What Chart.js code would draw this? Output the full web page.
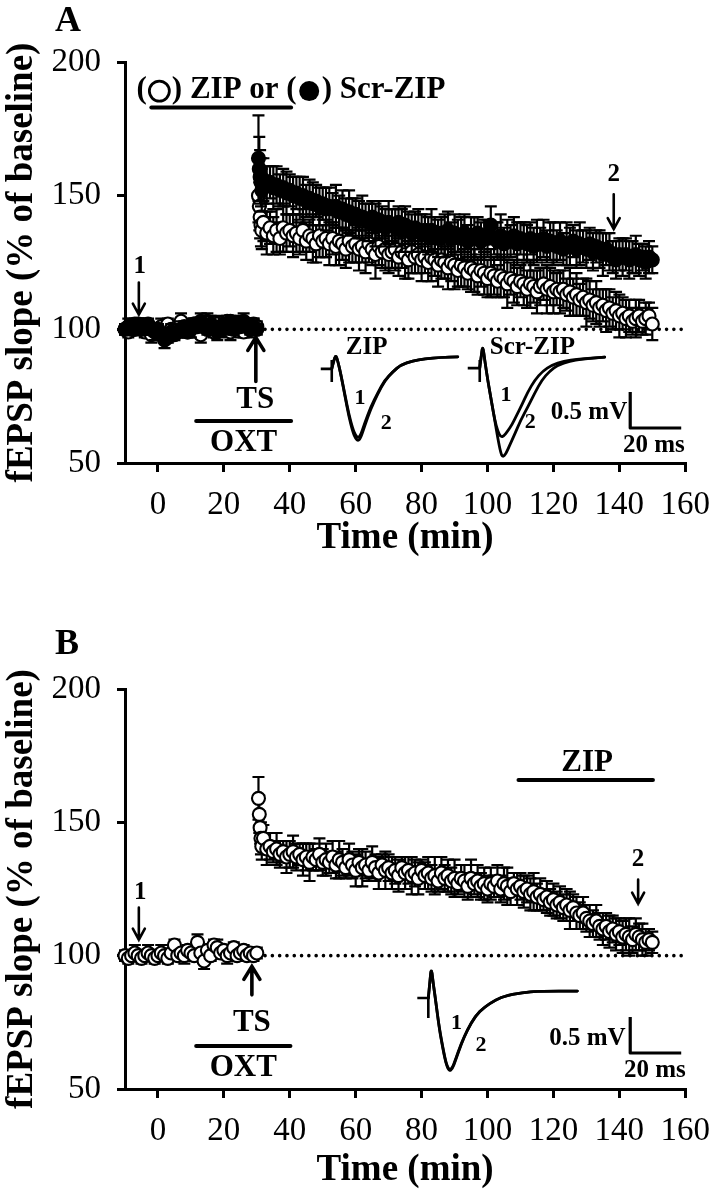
<!DOCTYPE html>
<html lang="en">
<head>
<meta charset="UTF-8">
<title>fEPSP slope - ZIP / Scr-ZIP</title>
<script src="https://cdn.jsdelivr.net/npm/chart.js@4.4.1/dist/chart.umd.min.js"></script>
<style>
  html, body { margin: 0; padding: 0; background: #fff; }
  .panel { position: absolute; left: 0; width: 724px; }
  #wrapA { top: 0; height: 600px; }
  #wrapB { top: 600px; height: 599px; }
</style>
</head>
<body>
<div class="panel" id="wrapA"><canvas id="chartA"></canvas></div>
<div class="panel" id="wrapB"><canvas id="chartB"></canvas></div>
<script>
// sampling times (min), shared by all series
const minutes = [
  -10, -9, -8, -7, -6, -5, -4, -3, -2, -1,
  0, 1, 2, 3, 4, 5, 6, 7, 8, 9,
  10, 11, 12, 13, 14, 15, 16, 17, 18, 19,
  20, 21, 22, 23, 24, 25, 26, 27, 28, 29,
  30,
  30.5, 30.75, 31, 31.25, 31.5,
  32, 33, 34, 35, 36, 37, 38, 39, 40, 41,
  42, 43, 44, 45, 46, 47, 48, 49, 50, 51,
  52, 53, 54, 55, 56, 57, 58, 59, 60, 61,
  62, 63, 64, 65, 66, 67, 68, 69, 70, 71,
  72, 73, 74, 75, 76, 77, 78, 79, 80, 81,
  82, 83, 84, 85, 86, 87, 88, 89, 90, 91,
  92, 93, 94, 95, 96, 97, 98, 99, 100, 101,
  102, 103, 104, 105, 106, 107, 108, 109, 110, 111,
  112, 113, 114, 115, 116, 117, 118, 119, 120, 121,
  122, 123, 124, 125, 126, 127, 128, 129, 130, 131,
  132, 133, 134, 135, 136, 137, 138, 139, 140, 141,
  142, 143, 144, 145, 146, 147, 148, 149, 150
];

// panel A, open circles (ZIP)
const zipA = [
  100, 99, 101, 100, 102, 101, 99, 100, 98, 100,
  99, 101, 100, 102, 100, 99, 101, 103, 100, 99,
  101, 102, 100, 98, 101, 103, 100, 99, 102, 101,
  100, 103, 99, 101, 102, 100, 99, 101, 100, 102,
  101,
  150, 146, 142, 139, 137,
  140, 136, 138, 135, 137, 134, 138, 136, 137, 135,
  136, 134, 137, 133, 135, 134, 132, 135, 133, 134,
  132, 134, 131, 133, 132, 130, 133, 131, 132, 130,
  131, 129, 132, 130, 128, 131, 129, 130, 128, 129,
  130, 127, 129, 128, 126, 129, 127, 128, 126, 127,
  125, 127, 126, 124, 126, 125, 123, 125, 124, 122,
  124, 123, 121, 123, 122, 120, 122, 121, 119, 121,
  120, 118, 120, 119, 117, 119, 118, 116, 118, 117,
  115, 117, 116, 114, 116, 117, 115, 116, 114, 115,
  114, 115, 113, 114, 112, 113, 111, 112, 110, 111,
  109, 110, 108, 109, 107, 108, 106, 107, 105, 106,
  104, 105, 103, 104, 105, 103, 104, 105, 102
];
const zipAErr = [
  2, 2, 3, 2, 2, 3, 2, 2, 3, 2,
  2, 3, 2, 2, 3, 2, 2, 3, 2, 2,
  3, 2, 2, 3, 2, 3, 2, 2, 3, 2,
  3, 2, 3, 2, 2, 3, 2, 2, 3, 2,
  2,
  10, 9, 8, 8, 7,
  7, 8, 6, 7, 8, 6, 9, 7, 6, 8,
  7, 6, 8, 7, 6, 9, 7, 8, 6, 7,
  8, 6, 7, 9, 6, 7, 8, 6, 7, 8,
  6, 8, 7, 6, 9, 7, 6, 8, 7, 6,
  8, 7, 6, 9, 7, 8, 6, 7, 8, 6,
  7, 9, 6, 8, 7, 6, 8, 7, 9, 6,
  8, 7, 6, 9, 8, 7, 6, 8, 7, 9,
  7, 6, 8, 7, 9, 6, 8, 7, 6, 8,
  7, 9, 6, 8, 7, 6, 9, 7, 8, 6,
  8, 7, 6, 9, 7, 8, 6, 7, 9, 7,
  6, 8, 7, 6, 8, 7, 6, 7, 8, 6,
  7, 6, 5, 7, 6, 5, 6, 5, 6
];

// panel A, filled circles (Scr-ZIP)
const scrA = [
  100, 101, 100, 102, 101, 100, 101, 102, 100, 99,
  100, 98, 96, 97, 99, 98, 99, 100, 101, 99,
  100, 102, 101, 103, 101, 100, 102, 101, 99, 100,
  102, 101, 103, 100, 102, 101, 103, 102, 100, 101,
  100,
  164, 160, 157, 155, 152,
  156, 154, 155, 153, 154, 152, 153, 151, 152, 150,
  151, 149, 150, 148, 149, 147, 148, 146, 147, 145,
  146, 145, 146, 144, 145, 143, 144, 142, 143, 141,
  142, 141, 140, 142, 139, 141, 140, 138, 140, 139,
  138, 140, 137, 139, 138, 136, 138, 137, 136, 137,
  135, 137, 136, 134, 136, 135, 137, 134, 136, 135,
  134, 136, 133, 135, 134, 136, 133, 135, 134, 139,
  134, 133, 135, 132, 134, 133, 135, 132, 134, 133,
  132, 134, 131, 133, 132, 134, 131, 133, 132, 131,
  133, 130, 132, 131, 133, 130, 132, 131, 130, 132,
  129, 131, 130, 128, 130, 129, 127, 126, 128, 127,
  128, 126, 127, 128, 126, 127, 125, 127, 126
];
const scrAErr = [
  2, 3, 2, 2, 3, 2, 3, 2, 2, 3,
  2, 2, 3, 2, 3, 2, 2, 3, 2, 2,
  3, 2, 2, 3, 2, 2, 3, 2, 3, 2,
  2, 3, 2, 2, 3, 2, 3, 2, 2, 3,
  2,
  16, 12, 10, 9, 8,
  8, 7, 6, 8, 7, 6, 7, 8, 6, 7,
  6, 8, 7, 6, 7, 8, 6, 7, 6, 8,
  7, 6, 8, 6, 7, 6, 8, 7, 6, 7,
  8, 6, 7, 6, 8, 7, 6, 7, 8, 6,
  7, 6, 8, 7, 6, 7, 6, 8, 7, 6,
  7, 8, 6, 7, 6, 8, 7, 6, 7, 6,
  8, 7, 6, 7, 8, 6, 7, 6, 7, 7,
  6, 7, 8, 6, 7, 6, 7, 8, 6, 7,
  7, 6, 7, 8, 6, 7, 6, 7, 8, 6,
  7, 6, 8, 7, 6, 7, 8, 6, 7, 6,
  7, 6, 7, 8, 6, 7, 6, 7, 6, 7,
  6, 7, 6, 7, 6, 5, 6, 6, 5
];

// panel B, open circles (ZIP given late)
const zipB = [
  100, 99, 100, 101, 100, 99, 100, 101, 100, 99,
  100, 101, 100, 99, 101, 104, 100, 101, 100, 102,
  101, 100, 105, 101, 98, 102, 100, 104, 103, 101,
  102, 100, 101, 103, 100, 101, 102, 100, 101, 100,
  101,
  159, 153, 148, 144, 141,
  144, 140, 141, 139, 140, 138, 139, 137, 138, 139,
  137, 138, 136, 137, 135, 137, 136, 138, 135, 136,
  135, 137, 134, 136, 135, 133, 136, 134, 132, 135,
  133, 134, 132, 135, 133, 131, 134, 132, 133, 131,
  132, 130, 133, 131, 132, 130, 131, 129, 132, 130,
  131, 129, 130, 128, 131, 129, 130, 128, 129, 127,
  129, 128, 126, 129, 127, 128, 126, 127, 125, 127,
  126, 128, 125, 127, 126, 124, 127, 125, 126, 124,
  125, 123, 124, 122, 123, 121, 122, 120, 121, 119,
  120, 118, 119, 117, 118, 116, 115, 116, 114, 113,
  112, 113, 111, 110, 111, 109, 110, 108, 109, 107,
  108, 107, 106, 108, 107, 106, 105, 106, 105
];
const zipBErr = [
  2, 2, 2, 3, 2, 2, 2, 3, 2, 2,
  2, 3, 2, 2, 3, 2, 2, 2, 3, 2,
  2, 2, 3, 2, 3, 2, 2, 2, 3, 2,
  2, 3, 2, 2, 2, 3, 2, 2, 2, 2,
  2,
  8, 7, 6, 6, 5,
  5, 6, 5, 4, 6, 5, 4, 6, 5, 6,
  5, 4, 6, 5, 7, 5, 4, 6, 5, 6,
  4, 6, 5, 7, 5, 4, 6, 5, 6, 5,
  7, 5, 4, 6, 5, 6, 4, 7, 5, 6,
  5, 6, 4, 6, 5, 7, 5, 6, 4, 5,
  6, 5, 7, 4, 6, 5, 6, 5, 7, 4,
  5, 6, 5, 7, 4, 6, 5, 6, 5, 6,
  4, 6, 5, 6, 7, 5, 4, 6, 5, 6,
  5, 6, 7, 5, 6, 4, 6, 5, 6, 5,
  6, 5, 6, 7, 5, 6, 5, 6, 5, 6,
  5, 6, 5, 6, 5, 6, 5, 6, 5, 6,
  6, 7, 5, 6, 5, 6, 5, 4, 4
];

const xTicks = [0, 20, 40, 60, 80, 100, 120, 140, 160];
const yTicks = [50, 100, 150, 200];
const baselineLevel = 100;

const SERIF = '"Liberation Serif", "Times New Roman", Times, serif';

function pts(ys) {
  return minutes.map((t, i) => ({ x: t, y: ys[i] }));
}

// vertical SEM bars, drawn just before each dataset's circles
const errorBars = {
  id: 'errorBars',
  beforeDatasetDraw(chart, args) {
    const ds = chart.data.datasets[args.index];
    if (!ds.errors) return;
    const ctx = chart.ctx, x = chart.scales.x, y = chart.scales.y;
    ctx.save();
    ctx.strokeStyle = '#000';
    ctx.lineWidth = 2.2;
    ds.data.forEach((p, i) => {
      const e = ds.errors[i];
      const cx = x.getPixelForValue(p.x);
      const top = y.getPixelForValue(p.y + e);
      const bot = y.getPixelForValue(p.y - e);
      ctx.beginPath();
      ctx.moveTo(cx, top); ctx.lineTo(cx, bot);
      ctx.moveTo(cx - 6, top); ctx.lineTo(cx + 6, top);
      ctx.moveTo(cx - 6, bot); ctx.lineTo(cx + 6, bot);
      ctx.stroke();
    });
    ctx.restore();
  }
};

// ---- drawing helpers for the annotations ----
function txt(ctx, s, x, y, size, align) {
  ctx.font = 'bold ' + size + 'px ' + SERIF;
  ctx.textAlign = align || 'center';
  ctx.textBaseline = 'middle';
  ctx.fillText(s, x, y);
}
function hbar(ctx, x1, x2, y, w) {
  ctx.beginPath();
  ctx.lineWidth = w;
  ctx.lineCap = 'round';
  ctx.moveTo(x1, y); ctx.lineTo(x2, y);
  ctx.stroke();
}
// arrow from y1 to y2, head at y2
function arrow(ctx, x, y1, y2, w, hw, hl) {
  const dir = y2 > y1 ? 1 : -1;
  ctx.lineWidth = w;
  ctx.lineCap = 'round';
  ctx.lineJoin = 'miter';
  ctx.beginPath();
  ctx.moveTo(x, y1); ctx.lineTo(x, y2);
  ctx.moveTo(x - hw, y2 - dir * hl); ctx.lineTo(x, y2); ctx.lineTo(x + hw, y2 - dir * hl);
  ctx.stroke();
}
function smoothPath(ctx, ox, oy, p, w) {
  ctx.lineWidth = w;
  ctx.lineJoin = 'round';
  ctx.lineCap = 'round';
  ctx.beginPath();
  ctx.moveTo(ox + p[0][0], oy + p[0][1]);
  for (let i = 1; i < p.length - 1; i++) {
    const mx = (p[i][0] + p[i + 1][0]) / 2, my = (p[i][1] + p[i + 1][1]) / 2;
    ctx.quadraticCurveTo(ox + p[i][0], oy + p[i][1], ox + mx, oy + my);
  }
  const last = p[p.length - 1];
  ctx.lineTo(ox + last[0], oy + last[1]);
  ctx.stroke();
}
function stimMark(ctx, ox, oy, len, up, down) {
  ctx.lineWidth = 2.6;
  ctx.lineCap = 'butt';
  ctx.beginPath();
  ctx.moveTo(ox, oy); ctx.lineTo(ox + len, oy);
  ctx.moveTo(ox + len, oy - up); ctx.lineTo(ox + len, oy + down);
  ctx.stroke();
}
function scaleBar(ctx, ox, oy) {
  ctx.lineWidth = 3.2;
  ctx.lineCap = 'butt';
  ctx.beginPath();
  ctx.moveTo(ox, oy - 36); ctx.lineTo(ox, oy); ctx.lineTo(ox + 51, oy);
  ctx.stroke();
}

// inset waveforms, pixel offsets from the stimulus start
const zipTrace1 = [[11,0],[13,-8],[15,-14],[17,-8],[20,5],[24,25],[28,45],[32,60],[35,67],[37.5,69],[40,66],[44,54],[50,38],[57,24],[64,11],[72,3],[80,-4],[92,-8],[104,-10],[120,-11.5],[137,-12]];
const zipTrace2 = [[11,0],[13,-8],[15,-14],[17,-8],[20,5],[24,26],[28,47],[32,63],[35,70],[37.5,72],[40,69],[44,57],[50,40],[57,25],[64,12],[72,3],[80,-4],[92,-8],[104,-10],[120,-11.5],[137,-12]];
const scrTrace1 = [[12,0],[13.5,-12],[15,-23],[17,-8],[20,12],[24,35],[27,52],[30,63],[33,69],[36,68],[40,63],[44,57],[49,47],[54,37],[60,24],[67,12],[75,3],[84,-3],[96,-7],[110,-9],[137,-11]];
const scrTrace2 = [[12,0],[13.5,-12],[15,-23],[17,-8],[20,12],[24,35],[27,52],[30,70],[33,85],[35,89],[38,86],[42,77],[47,66],[53,52],[60,39],[67,25],[74,12],[82,3],[90,-3],[102,-7],[114,-9],[137,-11]];
const bTrace1 = [[11,0],[12.5,-16],[14,-31],[16,-14],[18,0],[22,30],[26,52],[29,66],[32,72],[35,70],[38,62],[44,45],[50,32],[58,18],[67,9],[78,2],[90,-3],[110,-6],[123,-7],[160,-7]];
const bTrace2 = [[11,0],[12.5,-16],[14,-31],[16,-14],[18,0],[22,31],[26,53],[29,67],[32,73],[35,71],[38,63],[44,46],[50,32],[58,18],[67,9],[78,2],[90,-3],[110,-6],[123,-7],[160,-7]];

function drawPanelA(chart) {
  const ctx = chart.ctx, ca = chart.chartArea;
  const X = t => chart.scales.x.getPixelForValue(t);
  const Y = v => chart.scales.y.getPixelForValue(v);
  ctx.save();
  ctx.fillStyle = '#000';
  ctx.strokeStyle = '#000';

  txt(ctx, 'A', ca.left - 57, ca.top - 40, 36);

  // treatment legend + bar
  let lx = X(-6.5);
  const ly = Y(189.5);
  ctx.font = 'bold 31px ' + SERIF;
  ctx.textAlign = 'left';
  ctx.textBaseline = 'middle';
  ['(', 'o', ') ZIP or (', 'f', ') Scr-ZIP'].forEach(p => {
    if (p === 'o' || p === 'f') {
      ctx.beginPath();
      ctx.arc(lx + 11.5, ly + 1, 10, 0, Math.PI * 2);
      ctx.lineWidth = 2.8;
      if (p === 'f') ctx.fill(); else ctx.stroke();
      lx += 24;
    } else {
      ctx.fillText(p, lx, ly);
      lx += ctx.measureText(p).width + 1;
    }
  });
  hbar(ctx, X(-2), X(40.4), Y(183), 4);

  // 1, 2 sample arrows
  txt(ctx, '1', X(-5.5), Y(123.5), 25);
  arrow(ctx, X(-5.8), Y(117.5), Y(105.5), 2.6, 6, 11);
  txt(ctx, '2', X(138.3), Y(158), 25);
  arrow(ctx, X(138.3), Y(150.5), Y(137.5), 2.6, 6, 11);

  // TS + OXT
  arrow(ctx, X(29.7), Y(80.5), Y(97), 3.6, 8, 13);
  txt(ctx, 'TS', X(29.5), Y(73.5), 31);
  hbar(ctx, X(11.6), X(40.4), Y(65.7), 4);
  txt(ctx, 'OXT', X(26), Y(57.5), 31);

  // inset sweeps
  let ox = X(49.4), oy = Y(85.2);
  stimMark(ctx, ox, oy, 11, 9, 13);
  smoothPath(ctx, ox, oy, zipTrace1, 2.8);
  smoothPath(ctx, ox, oy, zipTrace2, 2.8);
  txt(ctx, 'ZIP', X(63.3), Y(93), 25);
  txt(ctx, '1', X(61.3), Y(74.3), 22);
  txt(ctx, '2', X(69.3), Y(65), 22);

  ox = X(94); oy = Y(85.5);
  stimMark(ctx, ox, oy, 12, 8, 14);
  smoothPath(ctx, ox, oy, scrTrace1, 2.8);
  smoothPath(ctx, ox, oy, scrTrace2, 2.8);
  txt(ctx, 'Scr-ZIP', X(113.6), Y(93), 25);
  txt(ctx, '1', X(105.6), Y(75.4), 22);
  txt(ctx, '2', X(113), Y(65.3), 22);

  scaleBar(ctx, X(143.3), Y(63.1));
  txt(ctx, '0.5 mV', X(142.4), Y(68.7), 25, 'right');
  txt(ctx, '20 ms', X(150.5), Y(56.7), 25);
  ctx.restore();
}

function drawPanelB(chart) {
  const ctx = chart.ctx, ca = chart.chartArea;
  const X = t => chart.scales.x.getPixelForValue(t);
  const Y = v => chart.scales.y.getPixelForValue(v);
  ctx.save();
  ctx.fillStyle = '#000';
  ctx.strokeStyle = '#000';

  txt(ctx, 'B', ca.left - 58, ca.top - 44, 36);

  hbar(ctx, X(109.4), X(150.2), Y(165.9), 4);
  txt(ctx, 'ZIP', X(130.2), Y(172.3), 31);

  txt(ctx, '1', X(-5.4), Y(123.5), 25);
  arrow(ctx, X(-5.8), Y(118), Y(106), 2.6, 6, 11);
  txt(ctx, '2', X(145.7), Y(136), 25);
  arrow(ctx, X(145.7), Y(128.5), Y(119.5), 2.6, 6, 11);

  arrow(ctx, X(28.5), Y(85.3), Y(96), 3.6, 8, 13);
  txt(ctx, 'TS', X(28.5), Y(74.8), 31);
  hbar(ctx, X(11.6), X(40.2), Y(66.1), 4);
  txt(ctx, 'OXT', X(25.9), Y(57.9), 31);

  const ox = X(78.7), oy = Y(84.1);
  stimMark(ctx, ox, oy, 11, 3, 20);
  smoothPath(ctx, ox, oy, bTrace1, 2.8);
  smoothPath(ctx, ox, oy, bTrace2, 2.8);
  txt(ctx, '1', X(90.6), Y(74.8), 22);
  txt(ctx, '2', X(98), Y(66.5), 22);

  scaleBar(ctx, X(143.3), Y(63.5));
  txt(ctx, '0.5 mV', X(141.9), Y(69.1), 25, 'right');
  txt(ctx, '20 ms', X(150.8), Y(57.1), 25);
  ctx.restore();
}

function circleSet(label, ys, errs, fill) {
  return {
    label: label,
    data: pts(ys),
    errors: errs,
    showLine: false,
    pointRadius: 6.5,
    pointBorderWidth: 2.1,
    pointBackgroundColor: fill,
    pointBorderColor: '#000',
    clip: false
  };
}
function dottedLine() {
  return {
    type: 'line',
    label: 'baseline',
    data: [{ x: 32.5, y: baselineLevel }, { x: 160, y: baselineLevel }],
    showLine: true,
    borderColor: '#000',
    borderWidth: 3.6,
    borderDash: [0, 7.3],
    borderCapStyle: 'round',
    pointRadius: 0,
    clip: false
  };
}

function makeChart(id, area, datasets, xTitlePad, drawNotes) {
  const axisFont = { family: SERIF, size: 33 };
  const titleFont = { family: SERIF, size: 37, weight: 'bold' };
  return new Chart(document.getElementById(id), {
    type: 'scatter',
    data: { datasets: datasets },
    options: {
      responsive: true,
      maintainAspectRatio: false,
      animation: false,
      devicePixelRatio: 1,
      layout: { padding: { top: area.top, right: area.right, left: 0, bottom: 0 } },
      plugins: { legend: { display: false }, tooltip: { enabled: false } },
      scales: {
        x: {
          type: 'linear', min: -10, max: 160,
          afterBuildTicks: s => { s.ticks = xTicks.map(v => ({ value: v })); },
          afterFit: s => { s.height = area.xHeight; },
          ticks: { color: '#000', font: axisFont, padding: 14, maxRotation: 0, autoSkip: false },
          grid: { drawOnChartArea: false, drawTicks: true, tickLength: 9, color: '#000', lineWidth: 3 },
          border: { display: true, color: '#000', width: 3 },
          title: { display: true, text: 'Time (min)', color: '#000', font: titleFont, padding: { top: 0, bottom: xTitlePad } }
        },
        y: {
          type: 'linear', min: 50, max: 200,
          afterBuildTicks: s => { s.ticks = yTicks.map(v => ({ value: v })); },
          afterFit: s => { s.width = 125; },
          ticks: { color: '#000', font: axisFont, padding: 16 },
          grid: { drawOnChartArea: false, drawTicks: true, tickLength: 8, color: '#000', lineWidth: 3 },
          border: { display: true, color: '#000', width: 3 },
          title: { display: true, text: 'fEPSP slope (% of baseline)', color: '#000', font: titleFont, padding: { top: 0, bottom: 0 } }
        }
      }
    },
    plugins: [errorBars, { id: 'notes', afterDatasetsDraw: drawNotes }]
  });
}

// filled circles first so they sit on top of the open ones
makeChart('chartA', { top: 62, right: 27, xHeight: 137 },
  [circleSet('Scr-ZIP', scrA, scrAErr, '#000'), circleSet('ZIP', zipA, zipAErr, '#fff'), dottedLine()],
  39, drawPanelA);

makeChart('chartB', { top: 89, right: 29, xHeight: 110 },
  [circleSet('ZIP', zipB, zipBErr, '#fff'), dottedLine()],
  6, drawPanelB);
</script>
</body>
</html>
